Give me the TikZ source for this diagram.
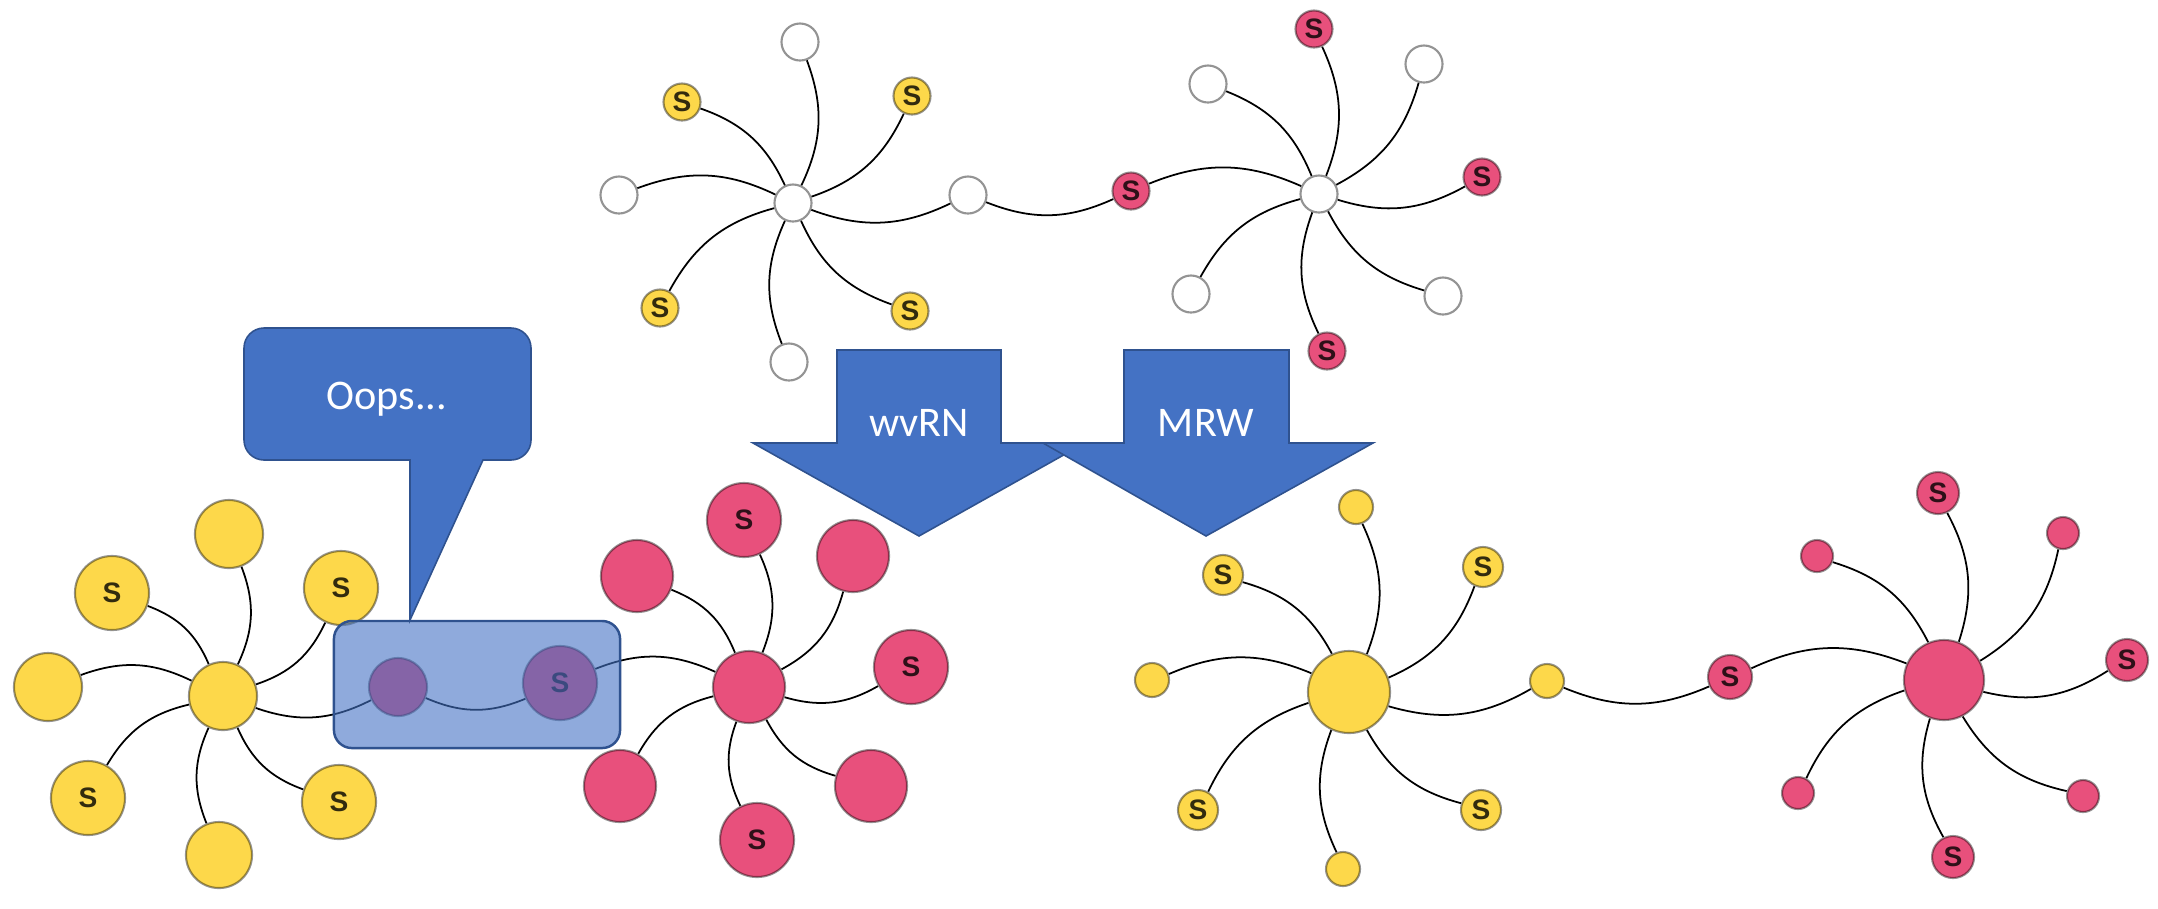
\documentclass[tikz,border=0pt]{standalone}
\usepackage{fontspec}
\setmainfont{Carlito}
\newfontfamily\sfnt{Liberation Sans}
\definecolor{ny}{HTML}{FDD84A}
\definecolor{np}{HTML}{E8507C}
\definecolor{ab}{HTML}{4472C4}
\definecolor{db}{HTML}{2F528F}
\tikzset{
  nd/.style={circle, inner sep=0pt, line width=0.6pt, draw=black, draw opacity=0.42,
    minimum size={#1*0.02cm}, text=black, text opacity=0.8,
    font=\sfnt\bfseries\fontsize{8}{9}\selectfont},
  yn/.style={nd=#1, fill=ny},
  pn/.style={nd=#1, fill=np},
  wn/.style={nd=#1, fill=white},
  ed/.style={line width=0.5pt, black},
  bigarrow/.style={fill=ab, draw=db, line width=0.45pt},
  lbl/.style={text=white, anchor=base, font=\fontsize{12}{14}\selectfont},
}
\begin{document}
\begin{tikzpicture}[x=0.01cm, y=-0.01cm]
\useasboundingbox (0,0) rectangle (2158,908);

% ---------- top-left graph ----------
\node[wn=18.5] (tlc) at (793,203) {};
\node[wn=18.5] (tl1) at (800,42) {};
\node[yn=18.5] (tl2) at (682,102) {S};
\node[yn=18.5] (tl3) at (912,96) {S};
\node[wn=18.5] (tl4) at (619,195) {};
\node[wn=18.5] (tl5) at (968,195) {};
\node[yn=18.5] (tl6) at (660,308) {S};
\node[yn=18.5] (tl7) at (910,311) {S};
\node[wn=18.5] (tl8) at (789,362) {};
% ---------- top-right graph ----------
\node[wn=18.5] (trc) at (1319,194) {};
\node[pn=18.5] (tr1) at (1314,29) {S};
\node[wn=18.5] (tr2) at (1208,84) {};
\node[wn=18.5] (tr3) at (1424,64) {};
\node[pn=18.5] (tr4) at (1131,191) {S};
\node[pn=18.5] (tr5) at (1482,177) {S};
\node[wn=18.5] (tr6) at (1191,294) {};
\node[wn=18.5] (tr7) at (1443,296) {};
\node[pn=18.5] (tr8) at (1327,351) {S};
\foreach \l in {tl1,tl2,tl3,tl4,tl5,tl6,tl7,tl8} \draw[ed] (tlc) to[bend right=23] (\l);
\draw[ed] (tl5) to[bend right=23] (tr4);
\foreach \l in {tr1,tr2,tr3,tr4,tr5,tr6,tr7,tr8} \draw[ed] (trc) to[bend right=23] (\l);

% ---------- bottom-left (wvRN) ----------
\node[yn=34] (blc) at (223,696) {};
\node[yn=34] (bl1) at (229,534) {};
\node[yn=37] (bl2) at (112,593) {S};
\node[yn=37] (bl3) at (341,588) {S};
\node[yn=34] (bl4) at (48,687) {};
\node[pn=29] (bl5) at (398,687) {};
\node[yn=37] (bl6) at (88,798) {S};
\node[yn=37] (bl7) at (339,802) {S};
\node[yn=33] (bl8) at (219,855) {};
\node[pn=36] (rmc) at (749,687) {};
\node[pn=37] (rm1) at (744,520) {S};
\node[pn=36] (rm2) at (637,576) {};
\node[pn=36] (rm3) at (853,556) {};
\node[pn=37] (rm4) at (560,683) {S};
\node[pn=37] (rm5) at (911,667) {S};
\node[pn=36] (rm6) at (620,786) {};
\node[pn=36] (rm7) at (871,786) {};
\node[pn=37] (rm8) at (757,840) {S};
\foreach \l in {bl1,bl2,bl3,bl4,bl5,bl6,bl7,bl8} \draw[ed] (blc) to[bend right=23] (\l);
\draw[ed] (bl5) to[bend right=23] (rm4);
\foreach \l in {rm1,rm2,rm3,rm4,rm5,rm6,rm7,rm8} \draw[ed] (rmc) to[bend right=23] (\l);

% highlight box
\node[draw=db, line width=0.7pt, fill=ab, fill opacity=0.6, draw opacity=1,
  rounded corners=0.18cm, minimum width=2.86cm, minimum height=1.27cm, inner sep=0pt]
  (hl) at (477,684.5) {};

% callout
\draw[fill=ab, draw=db, line width=0.45pt, rounded corners=0.2cm]
  (244,394) -- (244,328) -- (531,328) -- (531,460)
  [sharp corners] -- (483,460) -- (410,620) -- (410,460)
  [rounded corners=0.2cm] -- (244,460) -- cycle;
\node[lbl] (oops) at (387,409) {Oops.{}.{}.};

% ---------- arrows ----------
\draw[bigarrow] (837,350) -- (1001,350) -- (1001,443) -- (1085,443) -- (919,536) -- (753,443) -- (837,443) -- cycle;
\node[lbl] (wvrn) at (919,436) {wvRN};
\draw[bigarrow] (1124,350) -- (1289,350) -- (1289,443) -- (1373,443) -- (1206,536) -- (1043,443) -- (1124,443) -- cycle;
\node[lbl] (mrw) at (1206,436) {MRW};

% ---------- bottom-right (MRW) ----------
\node[yn=41] (byc) at (1349,692) {};
\node[yn=17] (by1) at (1356,507) {};
\node[yn=20] (by2) at (1223,575) {S};
\node[yn=20] (by3) at (1483,567) {S};
\node[yn=17] (by4) at (1152,680) {};
\node[yn=17] (by5) at (1547,681) {};
\node[yn=20] (by6) at (1198,810) {S};
\node[yn=20] (by7) at (1481,810) {S};
\node[yn=17] (by8) at (1343,869) {};
\node[pn=40] (rrc) at (1944,680) {};
\node[pn=21] (rr1) at (1938,493) {S};
\node[pn=16] (rr2) at (1817,556) {};
\node[pn=16] (rr3) at (2063,533) {};
\node[pn=22] (rr4) at (1730,677) {S};
\node[pn=21] (rr5) at (2127,660) {S};
\node[pn=16] (rr6) at (1798,793) {};
\node[pn=16] (rr7) at (2083,796) {};
\node[pn=21] (rr8) at (1953,857) {S};
\foreach \l in {by1,by2,by3,by4,by5,by6,by7,by8} \draw[ed] (byc) to[bend right=23] (\l);
\draw[ed] (by5) to[bend right=23] (rr4);
\foreach \l in {rr1,rr2,rr3,rr4,rr5,rr6,rr7,rr8} \draw[ed] (rrc) to[bend right=23] (\l);
\end{tikzpicture}
\end{document}
